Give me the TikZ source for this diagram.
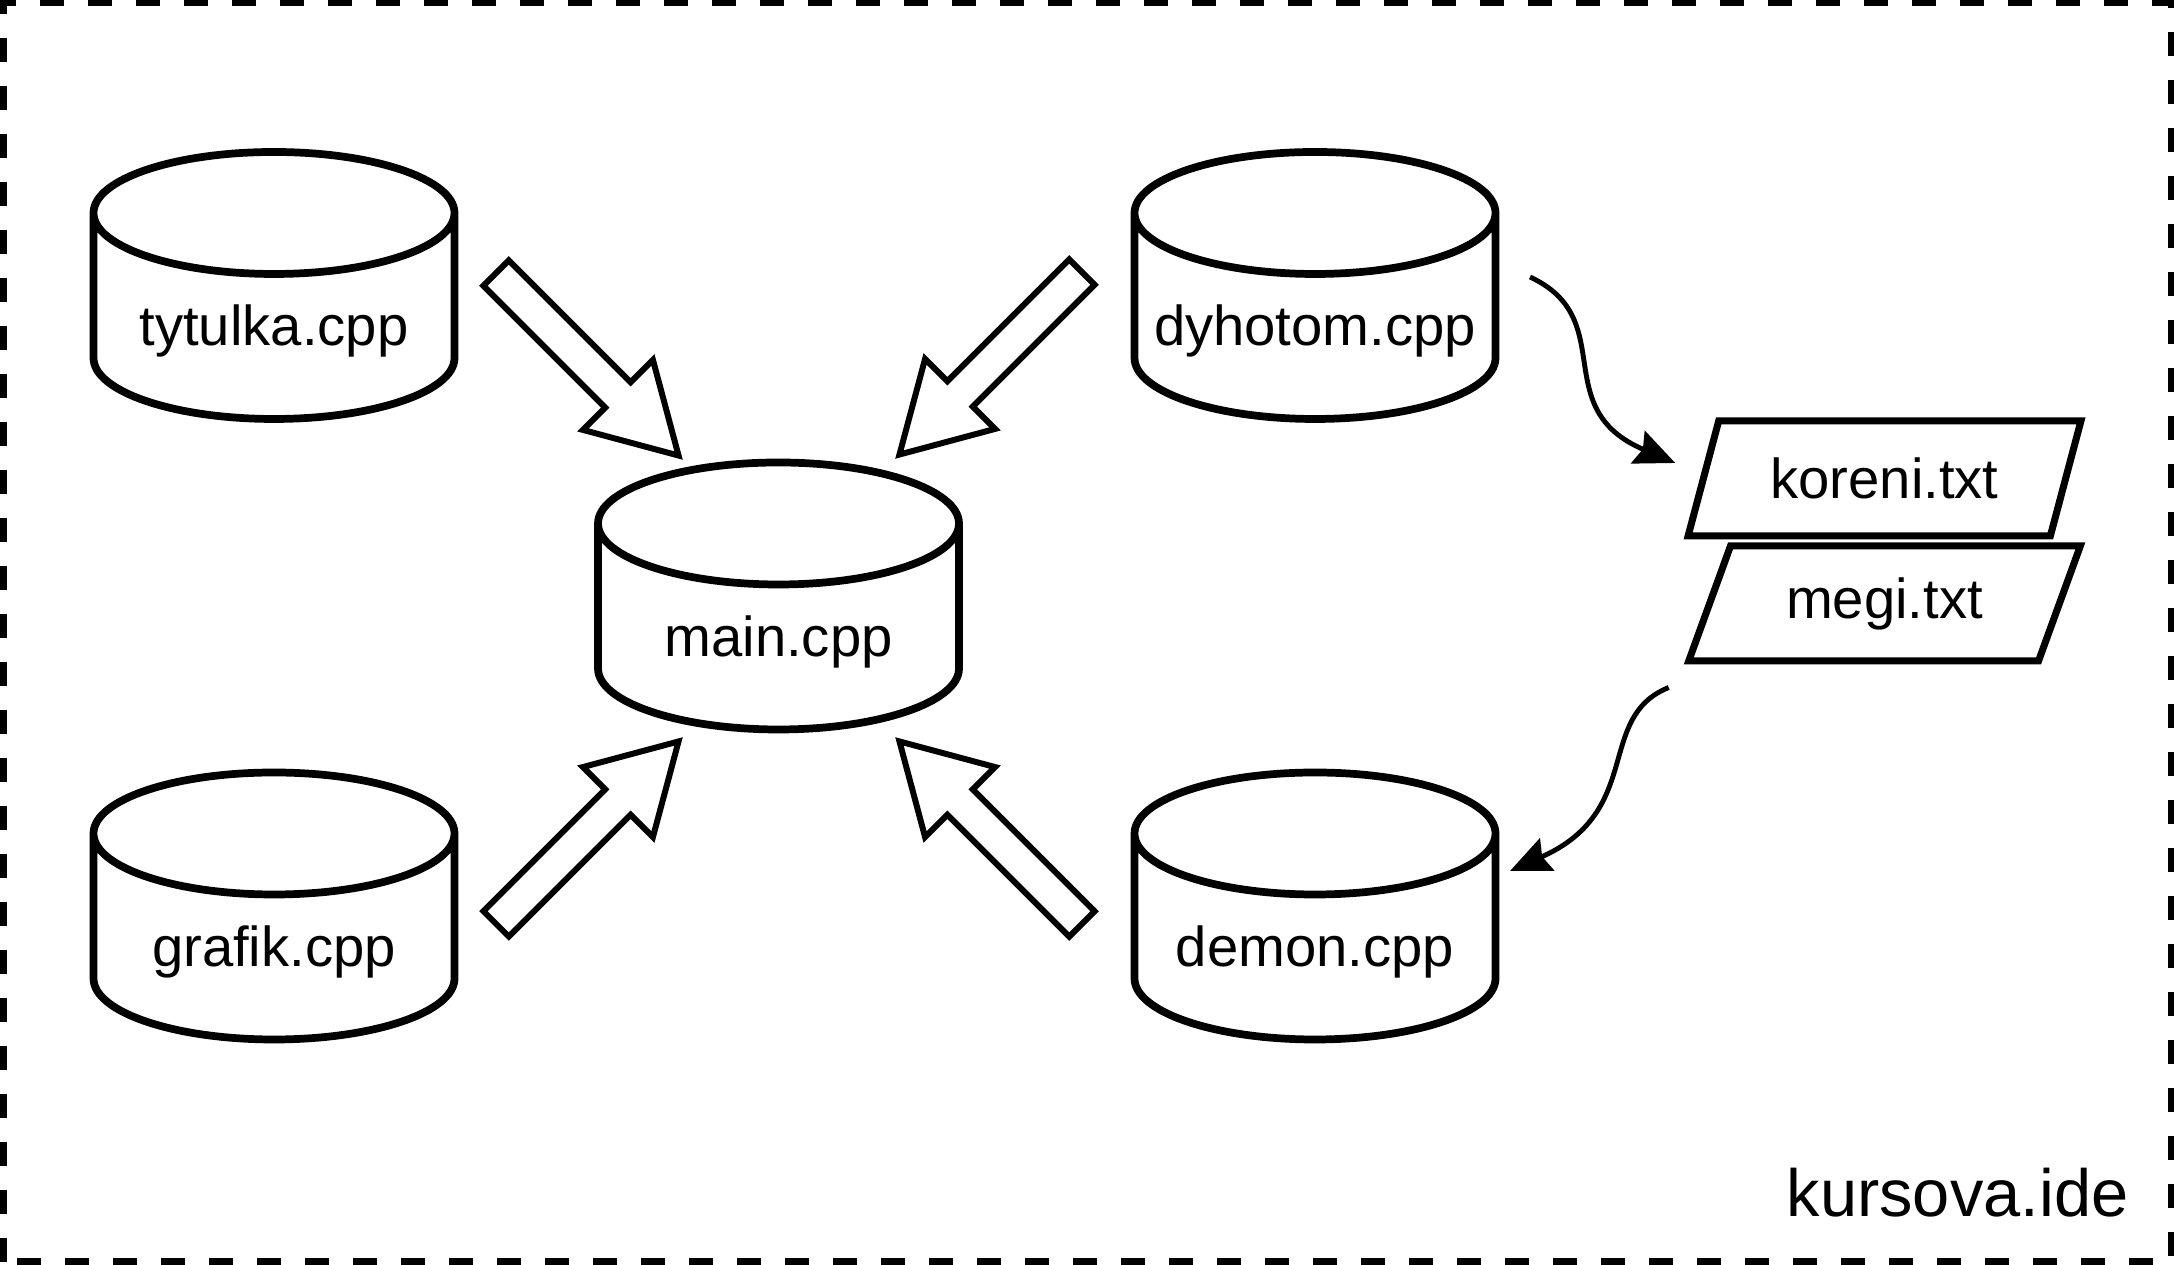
\documentclass[tikz,border=0pt]{standalone}
\usepackage{fontspec}
\setmainfont{Liberation Sans}
\usetikzlibrary{shapes.geometric,shapes.arrows,arrows.meta}
% cylinder drawn round a named box
\newcommand{\dbfile}[3]{%
  \node[dbbox] (#1) at (#2) {#3};
  \draw[dbline] ([yshift=-0.61cm]#1.north west) -- ([yshift=0.61cm]#1.south west)
    arc[start angle=180, end angle=360, x radius=1.805cm, y radius=0.61cm]
    -- ([yshift=-0.61cm]#1.north east)
    arc[start angle=0, end angle=180, x radius=1.805cm, y radius=0.61cm]
    arc[start angle=180, end angle=360, x radius=1.805cm, y radius=0.61cm];
}
\begin{document}
\begin{tikzpicture}[
    dbbox/.style={rectangle, minimum width=3.61cm, minimum height=2.67cm, inner sep=0pt,
      outer sep=0pt, text height=1.21cm, text depth=0pt, font=\fontsize{16}{19}\selectfont},
    dbline/.style={line width=2.2pt, line join=round},
    txtfile/.style={trapezium, trapezium left angle=63, trapezium right angle=117,
      trapezium stretches=true, draw, line width=2pt, minimum width=3.93cm,
      minimum height=1.15cm, inner sep=0pt, font=\fontsize{16}{19}\selectfont},
    feed/.style={single arrow, draw, line width=1.7pt, minimum height=2.58cm,
      minimum width=0.93cm, text height=0.15cm, text depth=0.15cm,
      single arrow head extend=0.315cm, single arrow tip angle=60,
      inner sep=0pt, anchor=tail},
    flow/.style={line width=1.4pt, -{Stealth[length=11.5pt,width=10pt,inset=1.5pt]}}
  ]
  \useasboundingbox (0,0) rectangle (21.74,12.65);
  \draw[line width=2pt, dash pattern=on 0.24cm off 0.24cm] (0.03,0.03) rectangle (21.71,12.62);

  \dbfile{tyt}{2.74,9.795}{tytulka.cpp}
  \dbfile{mn}{7.785,6.69}{main.cpp}
  \dbfile{dyh}{13.15,9.795}{dyhotom.cpp}
  \dbfile{graf}{2.74,3.59}{grafik.cpp}
  \dbfile{dem}{13.15,3.59}{demon.cpp}

  \node[txtfile] (kor) at (18.845,7.865) {koreni.txt};
  \node[txtfile] (meg) at (18.845,6.615) {megi.txt};

  % block arrows into main
  \node[feed, rotate=-45] (a1) at (4.94,9.94) {};
  \node[feed, rotate=-135] (a2) at (10.84,9.95) {};
  \node[feed, rotate=45] (a3) at (4.94,3.39) {};
  \node[feed, rotate=135] (a4) at (10.84,3.39) {};

  \draw[flow] ([xshift=2.15cm,yshift=0.085cm]dyh.center)
    to[out=-25,in=157,out distance=1.0cm,in distance=1.4cm]
    ([xshift=-0.245cm,yshift=0.155cm]kor.west);
  \draw[flow] ([xshift=-0.15cm,yshift=-0.23cm]meg.bottom left corner)
    to[out=202,in=24,out distance=0.8cm,in distance=1.48cm]
    ([xshift=1.95cm,yshift=0.35cm]dem.center);

  \node[anchor=base east, inner sep=0pt, font=\fontsize{19}{23}\selectfont] (ide)
    at (21.29,0.48) {kursova.ide};
\end{tikzpicture}
\end{document}
